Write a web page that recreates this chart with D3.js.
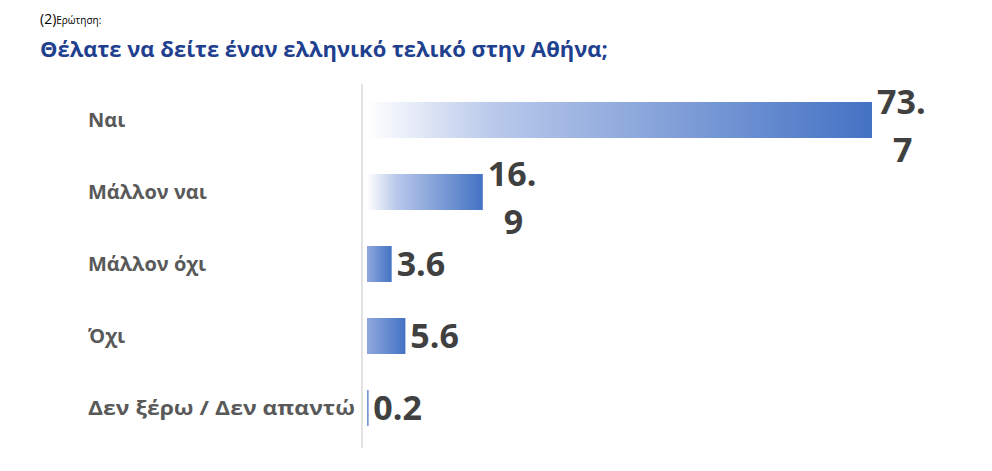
<!DOCTYPE html><html><head><meta charset="utf-8">
<script src="https://cdn.jsdelivr.net/npm/d3@7"></script>
<style>body{margin:0;background:#fff}</style></head><body>
<svg id="c" width="992" height="471"></svg>
<script>
const categories=["Ναι","Μάλλον ναι","Μάλλον όχι","Όχι","Δεν ξέρω / Δεν απαντώ"];
const values=[73.7,16.9,3.6,5.6,0.2];
const valueLabels=[["73.","7"],["16.","9"],["3.6"],["5.6"],["0.2"]];
const svg=d3.select("#c");
const F="'Open Sans','Liberation Sans',sans-serif";
const x=d3.scaleLinear().domain([0,73.7]).range([367,872]);
const y=d3.scaleBand().domain(categories).range([84,444]).paddingInner(0.5).paddingOuter(0.25);
const defs=svg.append("defs");
const g=defs.append("linearGradient").attr("id","gr");
g.append("stop").attr("offset","0").attr("stop-color","#ffffff");
g.append("stop").attr("offset","0.25").attr("stop-color","#b9c9ea");
g.append("stop").attr("offset","1").attr("stop-color","#4472C4");
const g2=defs.append("linearGradient").attr("id","gs");
g2.append("stop").attr("offset","0").attr("stop-color","#8fa8de");
g2.append("stop").attr("offset","1").attr("stop-color","#4472C4");
svg.append("text").attr("x",40).attr("y",24).attr("font-family",F).attr("font-size",14).attr("fill","#000")
 .text("(2)").append("tspan").attr("font-size",10).text("Ερώτηση:");
svg.append("text").attr("x",40).attr("y",57).attr("font-family",F).attr("font-size",22).attr("font-weight","bold").attr("fill","#1f3f8f")
 .text("Θέλατε να δείτε έναν ελληνικό τελικό στην Αθήνα;");
svg.append("line").attr("x1",362).attr("x2",362).attr("y1",84).attr("y2",448).attr("stroke","#d9d9d9").attr("stroke-width",1.5);
categories.forEach((c,i)=>{
 const yy=y(c),h=y.bandwidth();
 svg.append("rect").attr("x",x(0)).attr("y",yy).attr("width",Math.max(1.5,x(values[i])-x(0))).attr("height",h)
  .attr("fill",values[i]>10?"url(#gr)":"url(#gs)");
 svg.append("text").attr("x",88).attr("y",yy+h/2+7).attr("font-family",F).attr("font-size",20).attr("font-weight","bold").attr("fill","#595959")
  .attr("textLength",c.length>15?267:null).attr("lengthAdjust","spacingAndGlyphs").text(c);
 const L=valueLabels[i];
 const t=svg.append("text").attr("font-family",F).attr("font-size",34).attr("font-weight","bold").attr("fill","#404040");
 const sx=x(values[i])+5;
 if(L.length>1){
  t.append("tspan").attr("x",sx).attr("y",yy+h/2-6).text(L[0]);
  t.append("tspan").attr("x",sx+16).attr("y",yy+h/2+42).text(L[1]);
 } else t.append("tspan").attr("x",sx).attr("y",yy+h/2+12).text(L[0]);
});
</script></body></html>
